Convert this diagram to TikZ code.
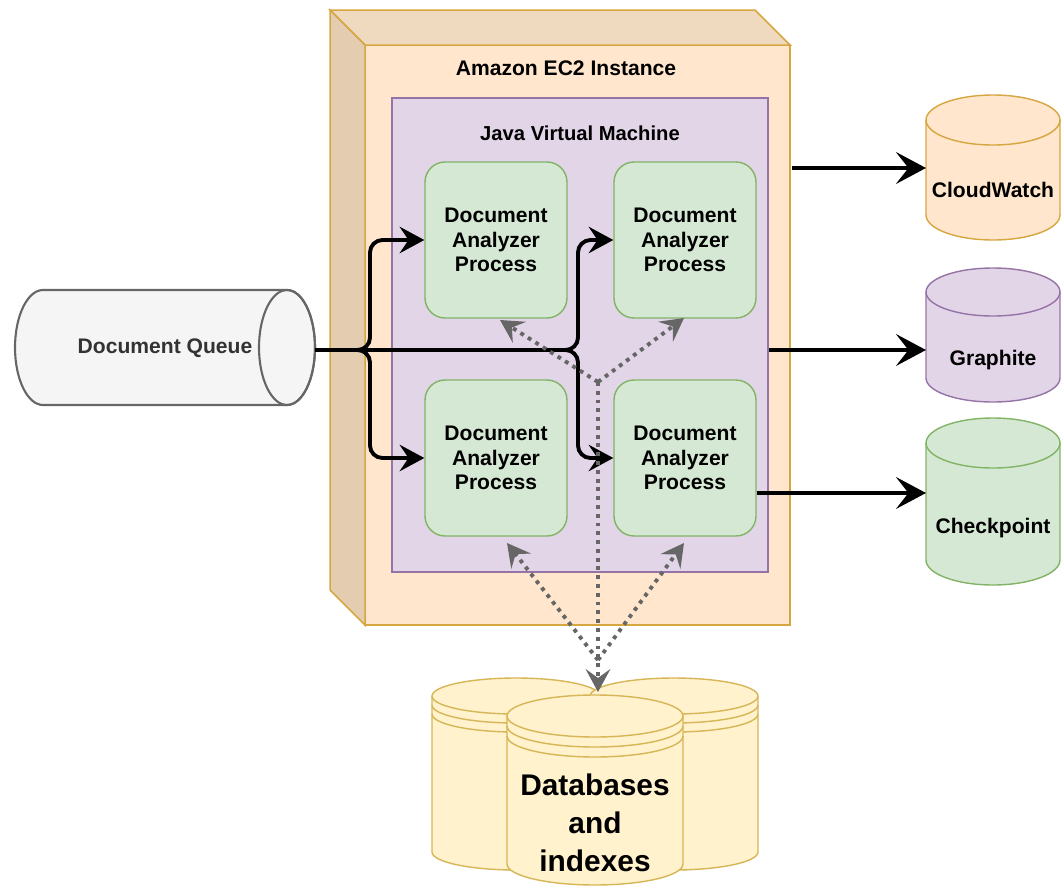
\documentclass[tikz,border=0pt]{standalone}
\usepackage{fontspec}
\setmainfont{Liberation Sans}
\usetikzlibrary{arrows.meta,calc}

\definecolor{ec2fill}{HTML}{FFE6CC}
\definecolor{ec2line}{HTML}{D6A640}
\definecolor{ec2top}{HTML}{F0DABF}
\definecolor{ec2side}{HTML}{E3CCB0}
\definecolor{jvmfill}{HTML}{E1D5E7}
\definecolor{jvmline}{HTML}{9673A6}
\definecolor{procfill}{HTML}{D5E8D4}
\definecolor{procline}{HTML}{82B366}
\definecolor{queuefill}{HTML}{F5F5F5}
\definecolor{queueline}{HTML}{666666}
\definecolor{dbfill}{HTML}{FFF2CC}
\definecolor{dbline}{HTML}{D6B656}
\definecolor{dotgray}{HTML}{666666}

\begin{document}
\begin{tikzpicture}[x=0.02cm, y=-0.02cm,
  every node/.style={font=\bfseries\fontsize{12}{14}\selectfont},
  ec2box/.style={draw=ec2line, fill=ec2fill, line width=0.9pt, outer sep=0pt,
    minimum width=8.5cm, minimum height=11.6cm},
  jvmbox/.style={draw=jvmline, fill=jvmfill, line width=0.8pt,
    minimum width=7.52cm, minimum height=9.48cm},
  process/.style={draw=procline, fill=procfill, line width=0.8pt, rounded corners=0.4cm,
    minimum width=2.84cm, minimum height=3.12cm, align=center},
  flow/.style={line width=2.2pt, rounded corners=0.25cm,
    -{Stealth[length=14pt, width=15pt, inset=5pt]}},
  feed/.style={line width=2.6pt, -{Stealth[length=17pt, width=18pt, inset=7pt]}},
  dots/.style={draw=dotgray, line width=2.2pt, dash pattern=on 2.2pt off 2.8pt,
    -{Stealth[length=13pt, width=14pt, inset=5pt]}},
  store/.style={line width=0.8pt}]

\useasboundingbox (0,0) rectangle (1062,886);

% EC2 instance (cube)
\node[ec2box] (ec2) at (577.5,335) {};
\filldraw[ec2line, fill=ec2top, line width=0.9pt] (ec2.north west) -- ++(-35,-35)
  -- ($(ec2.north east)+(-35,-35)$) -- (ec2.north east) -- cycle;
\filldraw[ec2line, fill=ec2side, line width=0.9pt] (ec2.north west) -- ++(-35,-35)
  -- ($(ec2.south west)+(-35,-35)$) -- (ec2.south west) -- cycle;
\node (ec2label) at (566,68) {Amazon EC2 Instance};

% JVM
\node[jvmbox] (jvm) at (580,335) {};
\node[font=\bfseries\fontsize{11.5}{14}\selectfont] (jvmlabel) at (580,133) {Java Virtual Machine};

\node[process] (tl) at (496,240) {Document\\Analyzer\\Process};
\node[process] (tr) at (685,240) {Document\\Analyzer\\Process};
\node[process] (bl) at (496,458) {Document\\Analyzer\\Process};
\node[process] (br) at (685,458) {Document\\Analyzer\\Process};

% document queue
\filldraw[queueline, fill=queuefill, line width=1.2pt] (43,290) -- (287,290)
  arc[start angle=90, end angle=-90, x radius=0.56cm, y radius=1.15cm]
  -- (43,405) arc[start angle=270, end angle=90, x radius=0.56cm, y radius=1.15cm] -- cycle;
\draw[queueline, line width=1.2pt] (287,347.5) ellipse [x radius=0.56cm, y radius=1.15cm];
\node[text=black!80] (queue) at (165,348) {Document Queue};
\coordinate (qout) at (315,350);

\draw[flow] (qout) -- (370,350) -- (370,240) -- (tl.west);
\draw[flow] (qout) -- (370,350) -- (370,458) -- (bl.west);
\draw[flow] (qout) -- (578,350) -- (578,240) -- (tr.west);
\draw[flow] (qout) -- (578,350) -- (578,458) -- (br.west);

% monitoring stores
\filldraw[store, draw=ec2line, fill=ec2fill] (926,120) -- (926,215)
  arc[start angle=180, end angle=360, x radius=1.34cm, y radius=0.5cm] -- (1060,120)
  arc[start angle=0, end angle=180, x radius=1.34cm, y radius=0.5cm] -- cycle;
\draw[store, ec2line] (926,120) arc[start angle=180, end angle=360, x radius=1.34cm, y radius=0.5cm];
\node (cloudwatch) at (993,190) {CloudWatch};

\filldraw[store, draw=jvmline, fill=jvmfill] (926,292) -- (926,378)
  arc[start angle=180, end angle=360, x radius=1.34cm, y radius=0.48cm] -- (1060,292)
  arc[start angle=0, end angle=180, x radius=1.34cm, y radius=0.48cm] -- cycle;
\draw[store, jvmline] (926,292) arc[start angle=180, end angle=360, x radius=1.34cm, y radius=0.48cm];
\node (graphite) at (993,360) {Graphite};

\filldraw[store, draw=procline, fill=procfill] (926,443) -- (926,560)
  arc[start angle=180, end angle=360, x radius=1.34cm, y radius=0.5cm] -- (1060,443)
  arc[start angle=0, end angle=180, x radius=1.34cm, y radius=0.5cm] -- cycle;
\draw[store, procline] (926,443) arc[start angle=180, end angle=360, x radius=1.34cm, y radius=0.5cm];
\node (checkpoint) at (993,528) {Checkpoint};

\coordinate (cwin) at (926,168);
\coordinate (grin) at (926,350);
\coordinate (cpin) at (926,493);
\draw[feed] ($(ec2.east |- cwin)+(2,0)$) -- (cwin);
\draw[feed] (jvm.east |- grin) -- (grin);
\draw[feed] (br.east |- cpin) -- (cpin);

% databases
\filldraw[store, draw=dbline, fill=dbfill] (432,696) -- (432,852)
  arc[start angle=180, end angle=360, x radius=1.68cm, y radius=0.36cm] -- (600,696)
  arc[start angle=0, end angle=180, x radius=1.68cm, y radius=0.36cm] -- cycle;
\draw[store, dbline] (432,696) arc[start angle=180, end angle=360, x radius=1.68cm, y radius=0.36cm]
  (432,705) arc[start angle=180, end angle=360, x radius=1.68cm, y radius=0.36cm]
  (432,714) arc[start angle=180, end angle=360, x radius=1.68cm, y radius=0.36cm];
\filldraw[store, draw=dbline, fill=dbfill] (590,696) -- (590,852)
  arc[start angle=180, end angle=360, x radius=1.68cm, y radius=0.36cm] -- (758,696)
  arc[start angle=0, end angle=180, x radius=1.68cm, y radius=0.36cm] -- cycle;
\draw[store, dbline] (590,696) arc[start angle=180, end angle=360, x radius=1.68cm, y radius=0.36cm]
  (590,705) arc[start angle=180, end angle=360, x radius=1.68cm, y radius=0.36cm]
  (590,714) arc[start angle=180, end angle=360, x radius=1.68cm, y radius=0.36cm];
\filldraw[store, draw=dbline, fill=dbfill] (507,716) -- (507,864)
  arc[start angle=180, end angle=360, x radius=1.76cm, y radius=0.42cm] -- (683,716)
  arc[start angle=0, end angle=180, x radius=1.76cm, y radius=0.42cm] -- cycle;
\draw[store, dbline] (507,716) arc[start angle=180, end angle=360, x radius=1.76cm, y radius=0.42cm]
  (507,726) arc[start angle=180, end angle=360, x radius=1.76cm, y radius=0.42cm]
  (507,736) arc[start angle=180, end angle=360, x radius=1.76cm, y radius=0.42cm];
\node[align=center, font=\bfseries\fontsize{17}{21.5}\selectfont] (db) at (595,823)
  {Databases\\and\\indexes};

% data access
\coordinate (split) at (598,382);
\coordinate (join) at (598,660);
\coordinate (dbtop) at (598,692);
\draw[dots] (split) -- (500,320);
\draw[dots] (split) -- (684,318);
\draw[dots] (split) -- (dbtop);
\draw[dots] (join) -- (507,543);
\draw[dots] (join) -- (684,543);
\end{tikzpicture}
\end{document}
